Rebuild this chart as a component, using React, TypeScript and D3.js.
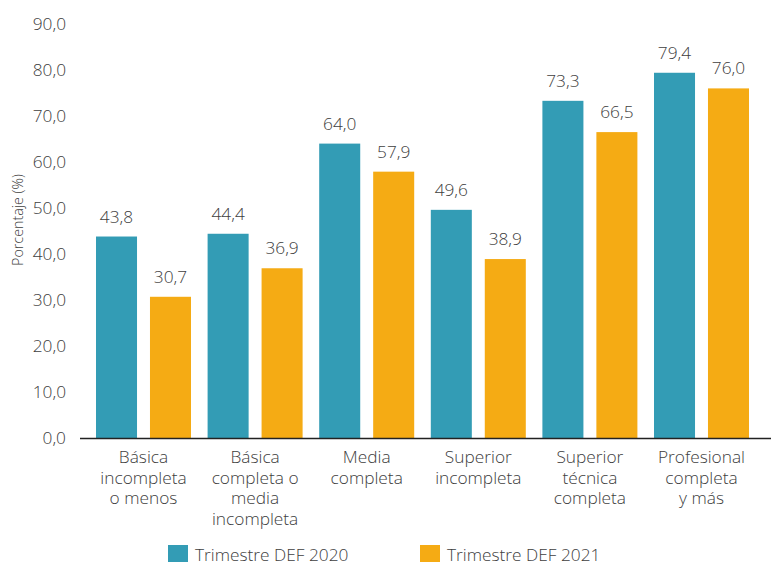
import React, { useEffect, useRef } from "react";
import * as d3 from "d3";

const categories = [
  ["Básica", "incompleta", "o menos"],
  ["Básica", "completa o", "media", "incompleta"],
  ["Media", "completa"],
  ["Superior", "incompleta"],
  ["Superior", "técnica", "completa"],
  ["Profesional", "completa", "y más"],
];
const series = ["Trimestre DEF 2020", "Trimestre DEF 2021"];
const values2020 = [43.8, 44.4, 64.0, 49.6, 73.3, 79.4];
const values2021 = [30.7, 36.9, 57.9, 38.9, 66.5, 76.0];
const yTicks = [0, 10, 20, 30, 40, 50, 60, 70, 80, 90];
const colors = ["#339cb5", "#f5ab14"];

const W = 771;
const H = 562;
const fmt = (v: number) => v.toFixed(1).replace(".", ",");

const App: React.FC = () => {
  const ref = useRef<SVGSVGElement | null>(null);

  useEffect(() => {
    const svg = d3.select(ref.current);
    svg.selectAll("*").remove();
    const font = "'Open Sans', sans-serif";
    const textColor = "#404040";
    const fs = 17.3;

    const y = d3.scaleLinear().domain([0, 90]).range([438, 24]);
    const x0 = d3
      .scaleBand<number>()
      .domain(d3.range(categories.length))
      .range([87.7, 757.3]);
    const x1 = d3
      .scaleBand<number>()
      .domain([0, 1])
      .range([8.3, x0.bandwidth() - 8.3])
      .paddingInner(0.24);

    // y tick labels
    svg
      .append("g")
      .selectAll("text")
      .data(yTicks)
      .join("text")
      .attr("x", 66)
      .attr("y", (d) => y(d))
      .attr("dy", "0.35em")
      .attr("text-anchor", "end")
      .attr("font-family", font)
      .attr("font-weight", 300)
      .attr("font-size", fs)
      .attr("fill", textColor)
      .text((d) => fmt(d));

    svg
      .append("text")
      .attr("transform", "translate(23,220) rotate(-90)")
      .attr("text-anchor", "middle")
      .attr("font-family", font)
      .attr("font-weight", 300)
      .attr("font-size", 14.3)
      .attr("fill", textColor)
      .text("Porcentaje (%)");

    const data = [values2020, values2021];
    const groups = svg
      .append("g")
      .selectAll("g")
      .data(categories.map((_, i) => i))
      .join("g")
      .attr("transform", (i) => `translate(${x0(i)},0)`);

    groups
      .selectAll("rect")
      .data((i) => data.map((s, si) => ({ si, v: s[i] })))
      .join("rect")
      .attr("x", (d) => x1(d.si)!)
      .attr("width", x1.bandwidth())
      .attr("y", (d) => y(d.v))
      .attr("height", (d) => y(0) - y(d.v))
      .attr("fill", (d) => colors[d.si]);

    groups
      .selectAll("text.val")
      .data((i) => data.map((s, si) => ({ si, v: s[i] })))
      .join("text")
      .attr("class", "val")
      .attr("x", (d) => x1(d.si)! + x1.bandwidth() / 2)
      .attr("y", (d) => y(d.v) - 14)
      .attr("text-anchor", "middle")
      .attr("font-family", font)
      .attr("font-weight", 300)
      .attr("font-size", fs)
      .attr("fill", textColor)
      .text((d) => fmt(d.v));

    // x axis line
    svg
      .append("line")
      .attr("x1", 80)
      .attr("x2", 771)
      .attr("y1", y(0) + 0.5)
      .attr("y2", y(0) + 0.5)
      .attr("stroke", "#222")
      .attr("stroke-width", 1.3);

    groups
      .append("text")
      .attr("x", x0.bandwidth() / 2)
      .attr("text-anchor", "middle")
      .attr("font-family", font)
      .attr("font-weight", 300)
      .attr("font-size", fs)
      .attr("fill", textColor)
      .selectAll("tspan")
      .data((i) => categories[i])
      .join("tspan")
      .attr("x", x0.bandwidth() / 2)
      .attr("y", (_, k) => 463 + k * 20.7)
      .text((d) => d);

    // legend
    const legendX = [168, 420];
    const legend = svg
      .append("g")
      .selectAll("g")
      .data(series)
      .join("g")
      .attr("transform", (_, i) => `translate(${legendX[i]},545)`);
    legend
      .append("rect")
      .attr("width", 20)
      .attr("height", 20)
      .attr("fill", (_, i) => colors[i]);
    legend
      .append("text")
      .attr("x", 27)
      .attr("y", 16)
      .attr("font-family", font)
      .attr("font-weight", 300)
      .attr("font-size", fs)
      .attr("fill", textColor)
      .text((d) => d);
  }, []);

  return (
    <svg
      ref={ref}
      width={W}
      height={H}
      style={{ position: "absolute", left: 0, top: 0, background: "#fff" }}
    ></svg>
  );
};

export default App;
